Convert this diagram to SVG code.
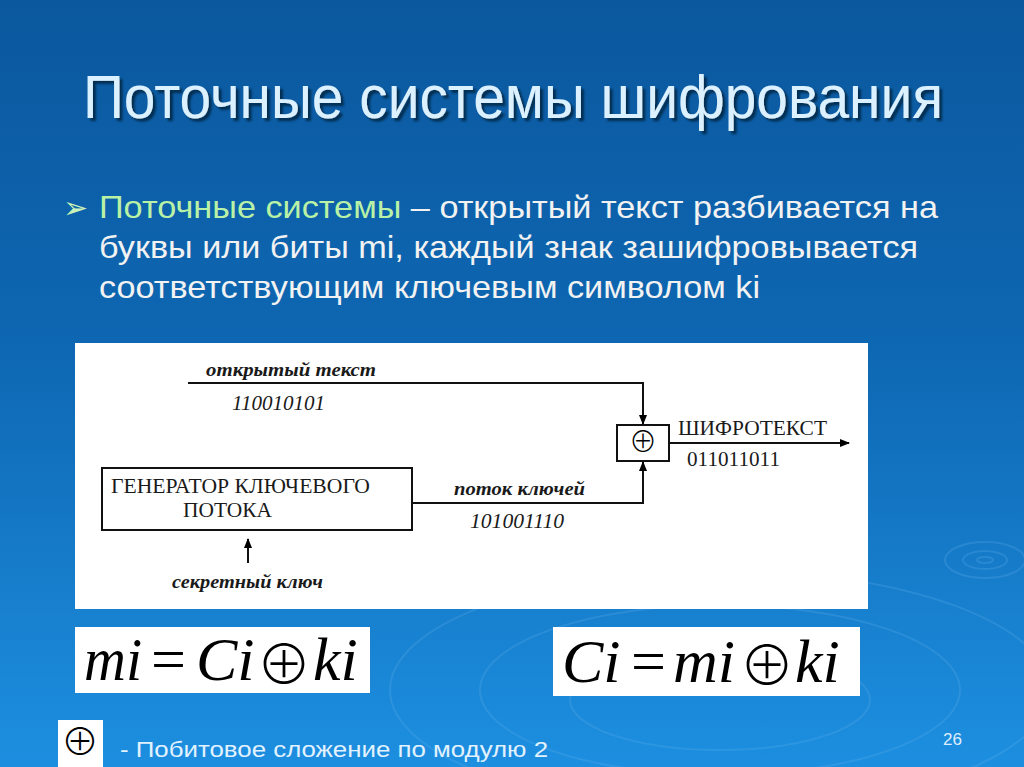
<svg xmlns="http://www.w3.org/2000/svg" width="1024" height="767" viewBox="0 0 1024 767">
<defs>
<linearGradient id="bg" x1="0" y1="0" x2="0" y2="1">
<stop offset="0" stop-color="#0b589e"/>
<stop offset="0.45" stop-color="#0e67b2"/>
<stop offset="1" stop-color="#1d8fe0"/>
</linearGradient>
<filter id="sh" x="-5%" y="-20%" width="110%" height="140%">
<feDropShadow dx="3" dy="3" stdDeviation="1.2" flood-color="#02254a" flood-opacity="0.9"/>
</filter>
<marker id="ah" markerWidth="10" markerHeight="8" refX="9" refY="4" orient="auto" markerUnits="userSpaceOnUse">
<path d="M0,0 L10,4 L0,8 Z" fill="#000"/>
</marker>
</defs>
<style>
.title{font-family:"Liberation Sans",Arial,sans-serif;font-size:62px;fill:#dcf1ff}
.body{font-family:"Liberation Sans",Arial,sans-serif;font-size:32px;fill:#f2f2f2}
.hl{fill:#b9f2a6}
.it{font-family:"Liberation Serif","Times New Roman",serif;font-style:italic;font-weight:bold;font-size:19px;fill:#1a1a1a}
.dg{font-family:"Liberation Serif","Times New Roman",serif;font-style:italic;font-size:20px;fill:#1a1a1a}
.rm{font-family:"Liberation Serif","Times New Roman",serif;font-size:22px;fill:#1a1a1a}
.ln{stroke:#111;stroke-width:2;fill:none}
.box{fill:#fff;stroke:#111;stroke-width:2}
.fm{font-family:"Liberation Serif","Times New Roman",serif;font-size:62px;fill:#000}
.op{font-family:"Noto Sans CJK JP","DejaVu Sans",sans-serif;font-weight:300;fill:#000}
.note{font-family:"Liberation Sans",Arial,sans-serif;font-size:22px;fill:#e2f2ff}
</style>
<rect width="1024" height="767" fill="url(#bg)"/>
<g fill="none" stroke="#6cb6ec" stroke-opacity="0.22" stroke-width="2">
<ellipse cx="985" cy="560" rx="40" ry="18"/>
<ellipse cx="985" cy="560" rx="22" ry="9"/>
<ellipse cx="985" cy="560" rx="8" ry="3"/>
<ellipse cx="720" cy="690" rx="330" ry="120"/>
<ellipse cx="720" cy="690" rx="240" ry="85"/>
<ellipse cx="720" cy="700" rx="150" ry="50"/>
</g>

<g id="title">
<text class="title" x="83" y="118" textLength="860" lengthAdjust="spacingAndGlyphs" filter="url(#sh)">Поточные системы шифрования</text>
</g>

<g id="bullet">
<text x="63" y="218" font-family="DejaVu Sans,sans-serif" font-size="30" fill="#c8f0b8">➢</text>
<text class="body" x="99" y="218" textLength="839" lengthAdjust="spacingAndGlyphs"><tspan class="hl">Поточные системы</tspan> – открытый текст разбивается на</text>
<text class="body" x="99" y="258" textLength="819" lengthAdjust="spacingAndGlyphs">буквы или биты mi, каждый знак зашифровывается</text>
<text class="body" x="99" y="298" textLength="661" lengthAdjust="spacingAndGlyphs">соответствующим ключевым символом ki</text>
</g>

<g id="panel">
<rect x="75" y="343" width="793" height="266" fill="#fff"/>
</g>

<g id="connectors">
<polyline class="ln" points="188,383 643,383 643,424" marker-end="url(#ah)"/>
<polyline class="ln" points="412,503 643,503 643,462" marker-end="url(#ah)"/>
<line class="ln" x1="669" y1="443" x2="849" y2="443" marker-end="url(#ah)"/>
<line class="ln" x1="248" y1="563" x2="248" y2="539" marker-end="url(#ah)"/>
</g>

<g id="plaintext-label">
<text class="it" x="206" y="376" textLength="170" lengthAdjust="spacingAndGlyphs">открытый текст</text>
<text class="dg" x="232" y="410" textLength="93" lengthAdjust="spacingAndGlyphs">110010101</text>
</g>

<g id="xor-node">
<rect class="box" x="617" y="425" width="52" height="36"/>
<text class="op" x="643" y="452" font-size="28" text-anchor="middle">⊕</text>
</g>

<g id="ciphertext-label">
<text class="rm" x="678" y="435" textLength="149" lengthAdjust="spacingAndGlyphs">ШИФРОТЕКСТ</text>
<text class="rm" x="687" y="466" textLength="93" lengthAdjust="spacingAndGlyphs">011011011</text>
</g>

<g id="generator">
<rect class="box" x="102" y="468" width="310" height="62"/>
<text class="rm" x="111" y="493" textLength="259" lengthAdjust="spacingAndGlyphs">ГЕНЕРАТОР КЛЮЧЕВОГО</text>
<text class="rm" x="183" y="517" textLength="89" lengthAdjust="spacingAndGlyphs">ПОТОКА</text>
</g>

<g id="keystream-label">
<text class="it" x="454" y="495" textLength="131" lengthAdjust="spacingAndGlyphs">поток ключей</text>
<text class="dg" x="470" y="528" textLength="94" lengthAdjust="spacingAndGlyphs">101001110</text>
</g>

<g id="secret-key">
<text class="it" x="172" y="588" textLength="151" lengthAdjust="spacingAndGlyphs">секретный ключ</text>
</g>

<g id="formula-left">
<rect x="75" y="627" width="295" height="66" fill="#fff"/>
<text class="fm" y="680"><tspan x="84" font-style="italic" textLength="58" lengthAdjust="spacingAndGlyphs">mi</tspan><tspan x="151">=</tspan><tspan x="196" font-style="italic">Ci</tspan></text>
<text class="op" x="284" y="684" font-size="55" text-anchor="middle">⊕</text>
<text class="fm" x="313" y="680" font-style="italic">ki</text>
</g>

<g id="formula-right">
<rect x="553" y="627" width="307" height="69" fill="#fff"/>
<text class="fm" y="682"><tspan x="562" font-style="italic">Ci</tspan><tspan x="631">=</tspan><tspan x="673" font-style="italic">mi</tspan></text>
<text class="op" x="767" y="685" font-size="55" text-anchor="middle">⊕</text>
<text class="fm" x="795" y="682" font-style="italic">ki</text>
</g>

<g id="legend">
<rect x="58" y="720" width="45" height="47" fill="#fff"/>
<text class="op" x="80" y="755" font-size="38" text-anchor="middle">⊕</text>
<text class="note" x="120" y="757" textLength="428" lengthAdjust="spacingAndGlyphs">- Побитовое сложение по модулю 2</text>
</g>

<g id="page-number">
<text x="943" y="745" font-family="Liberation Sans,Arial,sans-serif" font-size="17" fill="#dfefff">26</text>
</g>
</svg>
